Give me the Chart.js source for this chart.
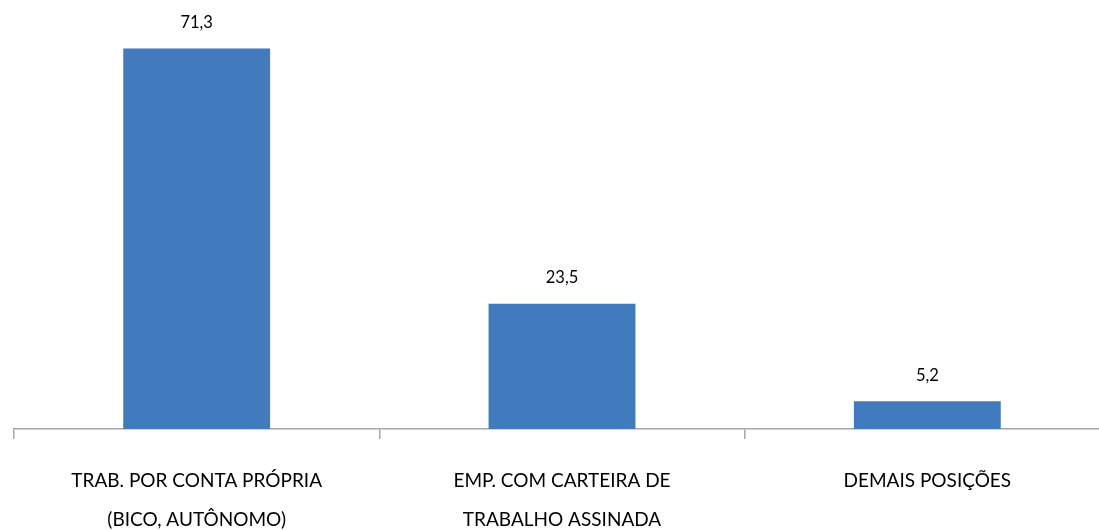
<!DOCTYPE html>
<html lang="pt-BR">
<head>
  <meta charset="UTF-8">
  <title>Posição na ocupação</title>
  <script src="https://cdn.jsdelivr.net/npm/chart.js"></script>
  <style>
    html, body { margin: 0; padding: 0; background: #fff; overflow: hidden; }
    .chart-box { position: relative; width: 1110px; height: 561px; }
  </style>
</head>
<body>
  <div class="chart-box">
    <canvas id="grafico"></canvas>
  </div>
  <script>
    // dados
    const categorias = [
      ['TRAB. POR CONTA PRÓPRIA', '(BICO, AUTÔNOMO)'],
      ['EMP. COM CARTEIRA DE', 'TRABALHO ASSINADA'],
      ['DEMAIS POSIÇÕES']
    ];
    const valores = [71.3, 23.5, 5.2];

    // rótulos de valor acima das barras (vírgula decimal)
    const rotulosValor = {
      id: 'rotulosValor',
      afterDatasetsDraw(chart) {
        const ctx = chart.ctx;
        const meta = chart.getDatasetMeta(0);
        ctx.save();
        ctx.font = '16.5px Lato, "Open Sans", sans-serif';
        ctx.fillStyle = '#000';
        ctx.textAlign = 'center';
        ctx.textBaseline = 'middle';
        meta.data.forEach((bar, i) => {
          const txt = valores[i].toFixed(1).replace('.', ',');
          ctx.fillText(txt, bar.x, bar.y - 26);
        });
        ctx.restore();
      }
    };

    new Chart(document.getElementById('grafico'), {
      type: 'bar',
      data: {
        labels: categorias,
        datasets: [{
          data: valores,
          backgroundColor: '#417BBE',
          categoryPercentage: 1,
          barPercentage: 0.402
        }]
      },
      options: {
        responsive: true,
        maintainAspectRatio: false,
        animation: false,
        layout: { padding: { top: 2, left: 14, right: 0, bottom: 0 } },
        plugins: {
          legend: { display: false },
          tooltip: { enabled: false }
        },
        scales: {
          x: {
            offset: true,
            grid: {
              offset: true,
              drawOnChartArea: false,
              drawTicks: true,
              tickLength: 10,
              color: '#A6A6A6',
              lineWidth: 1.5
            },
            border: { display: true, color: '#A6A6A6', width: 1.5 },
            ticks: {
              color: '#000',
              padding: 22,
              maxRotation: 0,
              autoSkip: false,
              font: { family: 'Lato, "Open Sans", sans-serif', size: 19, lineHeight: 2.05 }
            }
          },
          y: {
            display: false,
            min: 0,
            max: 80
          }
        }
      },
      plugins: [rotulosValor]
    });
  </script>
</body>
</html>
